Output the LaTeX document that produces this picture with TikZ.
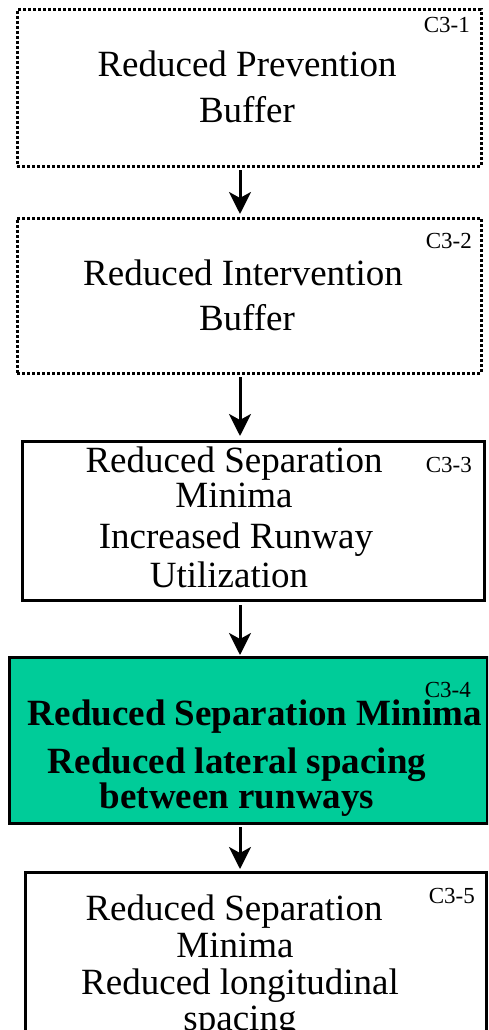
\documentclass[tikz,border=0pt]{standalone}
\usepackage{fontspec}
\setmainfont{Liberation Serif}
\usetikzlibrary{arrows.meta}
\definecolor{stagegreen}{HTML}{00CC99}
\tikzset{
  stagebox/.style={draw=black, line width=3pt, inner sep=0pt, outer sep=0pt},
  dotbox/.style={stagebox, dash pattern=on 3pt off 2pt},
  line/.style={anchor=base, inner sep=0pt, font=\fontsize{37}{44}\selectfont},
  boldline/.style={line, font=\fontsize{37}{44}\selectfont\bfseries},
  tag/.style={anchor=base east, inner sep=0pt, font=\fontsize{23}{27}\selectfont},
  flow/.style={-{Stealth[length=22pt,width=22pt,inset=6pt]}, line width=3pt}
}
\begin{document}
\begin{tikzpicture}[x=1pt,y=-1pt]
\useasboundingbox (0,0) rectangle (488,1030);
\clip (0,0) rectangle (488,1030);
\coordinate (ax) at (240,0);

% boxes
\node[dotbox, fit/.style={}, minimum width=464pt, minimum height=156pt] (b1) at (249,88) {};
\node[dotbox, minimum width=464pt, minimum height=155pt] (b2) at (249,295.5) {};
\node[stagebox, minimum width=462pt, minimum height=159pt] (b3) at (253,520.5) {};
\node[stagebox, fill=stagegreen, minimum width=478pt, minimum height=166pt] (b4) at (248,740) {};
\node[stagebox, minimum width=461pt, minimum height=159pt] (b5) at (255.5,951.5) {};

% box labels
\node[tag] (c1) at (470,33) {C3-1};
\node[tag] (c2) at (472,248) {C3-2};
\node[tag] (c3) at (472,472) {C3-3};
\node[tag] (c4) at (471,697) {C3-4};
\node[tag] (c5) at (475,903) {C3-5};

% texts
\node[line] (t1a) at (247,77) {Reduced Prevention};
\node[line] (t1b) at (247,122) {Buffer};

\node[line] (t2a) at (243,285) {Reduced Intervention};
\node[line] (t2b) at (247,330) {Buffer};

\node[line] (t3a) at (234,472) {Reduced Separation};
\node[line] (t3b) at (234,507) {Minima};
\node[line] (t3c) at (236,548) {Increased Runway};
\node[line] (t3d) at (229,587) {Utilization};

\node[boldline] (t4a) at (255,725) {Reduced Separation Minima};
\node[boldline] (t4b) at (237,773) {Reduced lateral spacing};
\node[boldline] (t4c) at (237,808) {between runways};

\node[line] (t5a) at (234,920) {Reduced Separation};
\node[line] (t5b) at (235,957) {Minima};
\node[line] (t5c) at (240,994) {Reduced longitudinal};
\node[line] (t5d) at (240,1030) {spacing};

% connectors
\draw[flow, shorten <=4pt, shorten >=4pt] (b1.south -| ax) -- (b2.north -| ax);
\draw[flow, shorten <=4pt, shorten >=5pt] (b2.south -| ax) -- (b3.north -| ax);
\draw[flow, shorten <=5pt, shorten >=2pt] (b3.south -| ax) -- (b4.north -| ax);
\draw[flow, shorten <=4pt, shorten >=3pt] (b4.south -| ax) -- (b5.north -| ax);
\end{tikzpicture}
\end{document}
